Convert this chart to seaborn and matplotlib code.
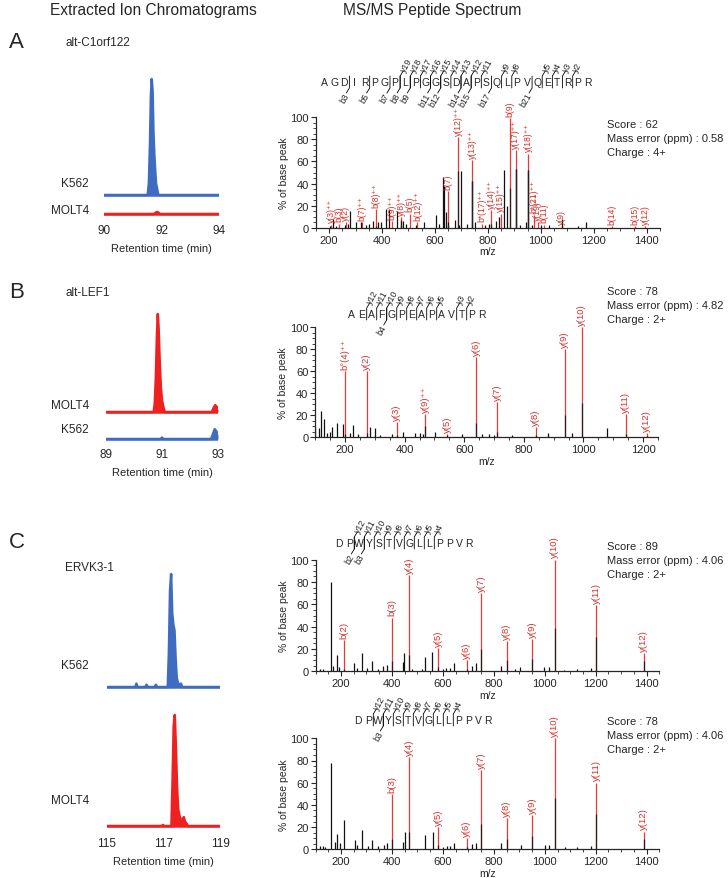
import matplotlib
matplotlib.use("Agg")
import matplotlib.pyplot as plt
from matplotlib.ticker import MultipleLocator
import seaborn as sns

W, H = 728, 879
BLUE = "#3f6cc0"
RED = "#ee2020"
PEAK_RED = "#e83a35"
TXT_RED = "#d8302b"

# ---------------- chromatograms: retention time (min) / relative intensity ----------------
a_k562_t = [90.0, 91.52, 91.56, 91.60, 91.63, 91.66, 91.69, 91.72, 91.75, 91.78, 91.81, 91.85, 91.89, 94.0]
a_k562_i = [0, 0, 10, 45, 85, 100, 90, 55, 35, 22, 10, 5, 0, 0]
a_molt4_t = [90.0, 91.74, 91.80, 91.85, 91.90, 91.95, 94.0]
a_molt4_i = [0, 0, 1.2, 1.8, 1.0, 0, 0]

b_molt4_t = [89.0, 90.70, 90.74, 90.78, 90.82, 90.85, 90.88, 90.92, 90.96, 91.00, 91.05, 91.10,
             92.78, 92.84, 92.90, 92.96, 93.0]
b_molt4_i = [0, 0, 8, 35, 80, 100, 85, 50, 25, 12, 5, 0, 0, 4, 7, 5, 2]
b_k562_t = [89.0, 90.95, 91.0, 91.05, 92.75, 92.82, 92.88, 92.94, 93.0]
b_k562_i = [0, 0, 1.5, 0, 0, 5, 10, 8, 4]

c_k562_t = [115.0, 116.0, 116.04, 116.08, 116.35, 116.40, 116.45, 116.68, 116.73, 116.78,
            117.15, 117.19, 117.23, 117.27, 117.31, 117.35, 117.39, 117.43, 117.47, 117.52,
            117.57, 117.62, 117.66, 119.0]
c_k562_i = [0, 0, 3, 0, 0, 2, 0, 0, 2, 0, 0, 30, 85, 100, 65, 55, 50, 25, 8, 3, 2, 3, 0, 0]
c_molt4_t = [115.0, 116.94, 116.98, 117.02, 117.28, 117.32, 117.36, 117.40, 117.44, 117.48,
             117.52, 117.56, 117.62, 117.68, 117.72, 117.76, 117.82, 117.86, 119.0]
c_molt4_i = [0, 0, 1, 0, 0, 40, 90, 100, 70, 35, 15, 10, 5, 6, 8, 4, 2, 0, 0]

# ---------------- spectra ----------------
# panel A : AGDIRPGPLPGGSDAPSQLPVQETRPR
a_black_mz = [205, 215, 225, 262, 270, 278, 300, 320, 338, 350, 365, 385, 395, 415, 428, 458, 470,
              480, 490, 530, 560, 605, 615, 630, 635, 640, 650, 675, 690, 700, 720, 741, 750,
              790, 803, 830, 842, 859, 872, 905, 920, 945, 952, 965, 1000, 1030, 1078, 1140, 1170]
a_black_h = [2, 8, 2, 3, 4, 15, 5, 5, 3, 4, 6, 5, 5, 17, 17, 15, 7,
             6, 4, 3, 5, 12, 4, 46, 38, 14, 5, 7, 3, 51, 4, 42, 5,
             3, 4, 6, 10, 52, 20, 53, 3, 5, 52, 3, 3, 3, 8, 2, 5]
a_red_mz = [208, 239, 263, 324, 377, 437, 473, 505, 534, 650, 688, 741, 778, 812, 849,
            884, 905, 952, 973, 989, 1010, 1078, 1269, 1356, 1395]
a_red_h = [3, 4, 5, 5, 17, 6, 10, 13, 5, 33, 82, 61, 4, 16, 13,
           99, 70, 67, 12, 5, 3, 2, 2, 2, 2]
a_red_blk = [0, 0, 0, 0, 2, 0, 3, 0, 0, 3, 51, 42, 0, 4, 0,
             36, 53, 52, 0, 0, 0, 0, 0, 0, 0]
a_red_lab = ["y(3)⁺⁺", "b(3)", "y(2)", "b(7)⁺⁺", "b(8)⁺⁺", "b(9)⁺⁺", "y(8)⁺⁺", "b(5)", "b(12)⁺⁺",
             "b(7)", "y(12)⁺⁺", "y(13)⁺⁺", "b*(17)⁺⁺", "y(14)⁺⁺", "y(15)⁺⁺", "b(9)", "y(17)⁺⁺",
             "y(18)⁺⁺", "b*(21)⁺⁺", "y(19)⁺⁺", "b(11)", "y(9)", "b(14)", "b(15)", "y(12)"]
a_seq = "AGDIRPGPLPGGSDAPSQLPVQETRPR"
a_y_ions = [19, 18, 17, 16, 15, 14, 13, 12, 11, 9, 8, 5, 4, 3, 2]
a_b_ions = [3, 5, 7, 8, 9, 11, 12, 14, 15, 17, 21]

# panel B : AEAFGPEAPAVTPR
b_black_mz = [101, 112, 121, 130, 138, 149, 157, 174, 192, 217, 228, 245, 285, 300, 319, 359,
              393, 436, 453, 461, 503, 592, 660, 683, 700, 760, 880, 960, 1080]
b_black_h = [9, 8, 24, 17, 4, 5, 9, 13, 12, 4, 11, 3, 9, 8, 2, 3,
             5, 4, 4, 3, 5, 3, 3, 3, 2, 2, 4, 4, 8]
b_red_mz = [201.1, 272.2, 373.2, 469.3, 543.3, 640.4, 711.4, 840.5, 937.5, 994.5, 1141.6, 1212.6]
b_red_h = [60, 60, 14, 21, 3, 73, 32, 9, 80, 100, 21, 4]
b_red_blk = [3, 4, 2, 10, 2, 13, 5, 2, 20, 31, 3, 1]
b_red_lab = ["b°(4)⁺⁺", "y(2)", "y(3)", "y(9)⁺⁺", "y(5)", "y(6)", "y(7)", "y(8)", "y(9)",
             "y(10)", "y(11)", "y(12)"]
b_seq = "AEAFGPEAPAVTPR"
b_y_ions = [12, 11, 10, 9, 8, 7, 6, 5, 3, 2]
b_b_ions = [4]

# panel C : DPWYSTVGLLPPVR (K562 on top, MOLT4 below)
c1_black_mz = [118, 131, 159, 170, 183, 193, 251, 262, 281, 301, 320, 346, 366, 379, 445, 449,
               477, 517, 530, 556, 601, 612, 628, 643, 713, 730, 829, 885, 902, 996, 1016, 1075,
               1127, 1180]
c1_black_h = [2, 2, 80, 5, 15, 4, 7, 3, 16, 3, 9, 2, 5, 6, 8, 16,
              2, 2, 13, 17, 2, 3, 3, 7, 5, 7, 5, 2, 4, 4, 4, 1,
              2, 3]
c1_red_mz = [213.1, 399.2, 468.3, 581.4, 694.5, 751.5, 850.6, 951.6, 1038.6, 1201.7, 1387.8]
c1_red_h = [28, 48, 86, 21, 10, 70, 27, 29, 100, 59, 16]
c1_red_blk = [2, 9, 15, 4, 2, 20, 10, 11, 39, 31, 9]
c1_red_lab = ["b(2)", "b(3)", "y(4)", "y(5)", "y(6)", "y(7)", "y(8)", "y(9)", "y(10)", "y(11)", "y(12)"]

c2_black_mz = [118, 131, 139, 159, 176, 186, 196, 213, 255, 262, 284, 305, 320, 346, 370, 379,
               445, 451, 530, 560, 601, 615, 628, 645, 713, 730, 829, 905, 999, 1016, 1081,
               1127, 1180]
c2_black_h = [3, 3, 2, 78, 7, 14, 6, 26, 8, 4, 17, 3, 8, 3, 4, 6,
              7, 16, 13, 16, 2, 3, 3, 6, 5, 6, 6, 4, 4, 4, 2,
              2, 3]
c2_red_mz = [399.2, 468.3, 581.4, 694.5, 751.5, 850.6, 951.6, 1038.6, 1201.7, 1387.8]
c2_red_h = [50, 83, 20, 10, 71, 28, 31, 100, 60, 16]
c2_red_blk = [9, 16, 4, 2, 23, 9, 12, 46, 32, 9]
c2_red_lab = ["b(3)", "y(4)", "y(5)", "y(6)", "y(7)", "y(8)", "y(9)", "y(10)", "y(11)", "y(12)"]
c_seq = "DPWYSTVGLLPPVR"
c_y_ions = [12, 11, 10, 9, 8, 7, 6, 5, 4]
c1_b_ions = [2, 3]
c2_b_ions = [3]

scores = [("62", "0.58", "4+"), ("78", "4.82", "2+"), ("89", "4.06", "2+"), ("78", "4.06", "2+")]

sns.set_style("ticks")
plt.rcParams["font.family"] = ["Liberation Sans", "DejaVu Sans"]

fig = plt.figure(figsize=(W / 100, H / 100), dpi=100)


def px_axes(left, top, right, bottom):
    return fig.add_axes([left / W, 1 - bottom / H, (right - left) / W, (bottom - top) / H])


def chromatogram(rect, xlim, ticks, traces):
    ax = px_axes(*rect)
    ax.set_facecolor("none")
    for t, inten, base, scale, col in traces:
        y = [base - v * scale / 100 for v in inten]
        ax.fill_between(t, base, y, color=col, lw=0)
        sns.lineplot(x=t, y=y, ax=ax, color=col, lw=1.8, estimator=None, sort=False)
        ax.plot([t[0], t[-1]], [base, base], color=col, lw=1.8)
    ax.set_xlim(xlim)
    ax.set_ylim(rect[3], rect[1])
    ax.set_xticks(ticks)
    ax.set_xticklabels([str(v) for v in ticks])
    ax.set_yticks([])
    ax.tick_params(axis="x", length=0, pad=2, labelsize=8.5)
    for s in ax.spines.values():
        s.set_visible(False)
    ax.set_xlabel("Retention time (min)", fontsize=8, labelpad=5)
    return ax


def spectrum(rect, xlim, xticks, bmz, bh, rmz, rh, rblk, rlab, lab_fs=6.8):
    ax = px_axes(*rect)
    ax.set_facecolor("none")
    ax.vlines(rmz, 0, rh, color=PEAK_RED, lw=0.9)
    ax.vlines(bmz, 0, bh, color="#111111", lw=0.9)
    ax.vlines(rmz, 0, rblk, color="#222222", lw=0.9)
    for m, h, lab in zip(rmz, rh, rlab):
        ax.text(m, h + 2, lab, rotation=90, ha="center", va="bottom", color=TXT_RED, fontsize=lab_fs)
    ax.set_xlim(xlim)
    ax.set_ylim(0, 100)
    ax.set_xticks(xticks)
    ax.set_yticks(range(0, 101, 20))
    ax.xaxis.set_minor_locator(MultipleLocator(50))
    ax.yaxis.set_minor_locator(MultipleLocator(5))
    ax.tick_params(which="major", length=3.5, width=0.8, labelsize=8, pad=1.5)
    ax.tick_params(which="minor", length=2, width=0.6)
    sns.despine(ax=ax)
    for s in ("left", "bottom"):
        ax.spines[s].set_linewidth(0.9)
    ax.set_ylabel("% of base peak", fontsize=7.5, labelpad=1)
    ax.set_xlabel("m/z", fontsize=7.5, labelpad=1)
    return ax


# chromatograms
chromatogram((104, 60, 219, 222), (90, 94), [90, 92, 94],
             [(a_k562_t, a_k562_i, 196, 116, BLUE), (a_molt4_t, a_molt4_i, 215, 116, RED)])
chromatogram((106, 300, 218, 446), (89, 93), [89, 91, 93],
             [(b_molt4_t, b_molt4_i, 413, 98, RED), (b_k562_t, b_k562_i, 440, 98, BLUE)])
chromatogram((107, 560, 220, 835), (115, 119), [115, 117, 119],
             [(c_k562_t, c_k562_i, 688, 113, BLUE), (c_molt4_t, c_molt4_i, 827, 111, RED)])

# spectra
spectrum((315.8, 118, 660, 229), (150, 1450), range(200, 1401, 200),
         a_black_mz, a_black_h, a_red_mz, a_red_h, a_red_blk, a_red_lab, lab_fs=6.2)
spectrum((315.2, 328, 658, 438.3), (100, 1250), range(200, 1201, 200),
         b_black_mz, b_black_h, b_red_mz, b_red_h, b_red_blk, b_red_lab)
spectrum((315.5, 560.7, 659.4, 672.3), (100, 1450), range(200, 1401, 200),
         c1_black_mz, c1_black_h, c1_red_mz, c1_red_h, c1_red_blk, c1_red_lab)
spectrum((315.5, 739.3, 659.4, 850.3), (100, 1450), range(200, 1401, 200),
         c2_black_mz, c2_black_h, c2_red_mz, c2_red_h, c2_red_blk, c2_red_lab)

# overlay in pixel coordinates for the text annotations
over = px_axes(0, 0, W, H)
over.set_xlim(0, W)
over.set_ylim(H, 0)
over.axis("off")


def draw_seq(x0, y0, dx, seq, y_ions, b_ions):
    n = len(seq)
    for i, ch in enumerate(seq):
        over.text(x0 + i * dx, y0, ch, ha="center", va="center", fontsize=7.5)
    for k in y_ions:
        xb = x0 + (n - k - 0.5) * dx
        over.plot([xb, xb, xb + 3], [y0 + 6, y0 - 6, y0 - 11], color="k", lw=0.6)
        over.text(xb + 2.5, y0 - 11, f"y{k}", rotation=60, rotation_mode="anchor",
                  ha="left", va="center", fontsize=6.3)
    for k in b_ions:
        xb = x0 + (k - 0.5) * dx
        over.plot([xb, xb, xb - 3], [y0 - 6, y0 + 6, y0 + 11], color="k", lw=0.6)
        over.text(xb - 2.5, y0 + 11, f"b{k}", rotation=60, rotation_mode="anchor",
                  ha="right", va="center", fontsize=6.3)


draw_seq(324, 83, 10.15, a_seq, a_y_ions, a_b_ions)
draw_seq(351.7, 315, 10.0, b_seq, b_y_ions, b_b_ions)
draw_seq(339.3, 544, 10.0, c_seq, c_y_ions, c1_b_ions)
draw_seq(358.3, 721, 10.0, c_seq, c_y_ions, c2_b_ions)

for (sc, err, ch), y in zip(scores, [125, 292, 547, 722]):
    over.text(607, y, f"Score : {sc}", fontsize=8, va="center")
    over.text(607, y + 14, f"Mass error (ppm) : {err}", fontsize=8, va="center")
    over.text(607, y + 28, f"Charge : {ch}", fontsize=8, va="center")

over.text(153, 10, "Extracted Ion Chromatograms", fontsize=11.2, ha="center", va="center")
over.text(432, 10, "MS/MS Peptide Spectrum", fontsize=11.2, ha="center", va="center")
for lab, y in [("A", 42), ("B", 293), ("C", 543)]:
    over.text(9, y, lab, fontsize=16, ha="left", va="center")
for lab, y in [("alt-C1orf122", 43), ("alt-LEF1", 293), ("ERVK3-1", 568)]:
    over.text(65, y, lab, fontsize=8.5, ha="left", va="center")
for lab, y in [("K562", 184), ("MOLT4", 211), ("MOLT4", 406), ("K562", 430), ("K562", 666), ("MOLT4", 801)]:
    over.text(89, y, lab, fontsize=8.5, ha="right", va="center")

fig.savefig("out.png", dpi=100)
